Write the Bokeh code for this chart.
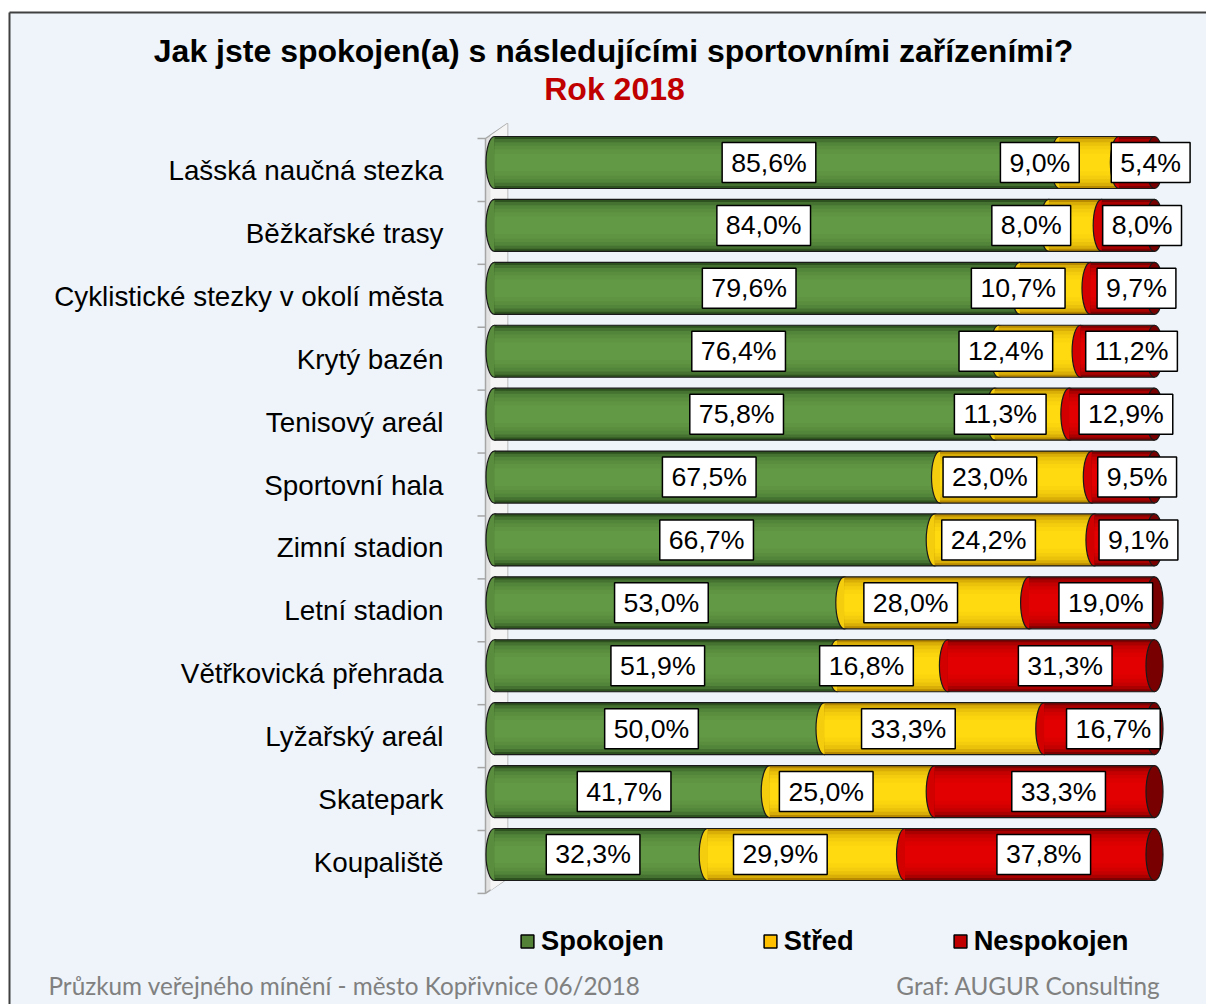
import numpy as np
from bokeh.plotting import figure
from bokeh.models import Range1d, ColumnDataSource, Label, Legend, LegendItem
from bokeh.core.properties import value
from bokeh.embed import file_html
from bokeh.resources import INLINE

# ---------------- data ----------------
categories = [
    "Lašská naučná stezka",
    "Běžkařské trasy",
    "Cyklistické stezky v okolí města",
    "Krytý bazén",
    "Tenisový areál",
    "Sportovní hala",
    "Zimní stadion",
    "Letní stadion",
    "Větřkovická přehrada",
    "Lyžařský areál",
    "Skatepark",
    "Koupaliště",
]
spokojen = [85.6, 84.0, 79.6, 76.4, 75.8, 67.5, 66.7, 53.0, 51.9, 50.0, 41.7, 32.3]
stred = [9.0, 8.0, 10.7, 12.4, 11.3, 23.0, 24.2, 28.0, 16.8, 33.3, 25.0, 29.9]
nespokojen = [5.4, 8.0, 9.7, 11.2, 12.9, 9.5, 9.1, 19.0, 31.3, 16.7, 33.3, 37.8]
series_names = ["Spokojen", "Střed", "Nespokojen"]

title_text = "Jak jste spokojen(a) s následujícími sportovními zařízeními?"
subtitle_text = "Rok 2018"
footer_left = "Průzkum veřejného mínění - město Kopřivnice 06/2018"
footer_right = "Graf: AUGUR Consulting"

# ---------------- layout / style ----------------
BG = "#EEF4F9"
FONT = "Liberation Sans"
FIG_W, FIG_H = 1206, 1004
X0 = 494.0      # canvas px of 0 %
SX = 6.6        # px per percent
ROW0 = 162.0    # canvas px of first row centre
SY = 62.909     # px per row


def to_x(px):
    return (px - X0) / SX


def to_y(py):
    return (py - ROW0) / SY


BAR_H = 52 / SY
CAP_W = 17 / SX

p = figure(width=FIG_W, height=FIG_H, output_backend="svg", toolbar_location=None,
           x_range=Range1d(to_x(0), to_x(FIG_W)),
           y_range=Range1d(to_y(FIG_H), to_y(0)),
           x_axis_location=None, y_axis_location=None,
           min_border=0, background_fill_color="white", border_fill_color="white")
p.outline_line_color = None
p.grid.visible = False

# chart area background + frame lines
p.quad(left=[to_x(9)], right=[to_x(FIG_W + 10)], top=[to_y(12)], bottom=[to_y(FIG_H + 10)],
       fill_color=BG, line_color=None)
p.line([to_x(9), to_x(FIG_W + 10)], [to_y(12), to_y(12)], line_color="#404040", line_width=2)
p.line([to_x(9), to_x(9)], [to_y(12), to_y(FIG_H + 10)], line_color="#404040", line_width=2)

n = len(categories)
rows = np.arange(n, dtype=float)

# ---------------- 3D wall ----------------
shift = 24 / SY
depth = 15 / SY
wall_x = [to_x(485), to_x(507), to_x(507), to_x(485)]
wall_y = [-shift, -shift - depth, n - shift - depth, n - shift]
p.patch(wall_x, wall_y, fill_color="#E2E2E2", line_color="#A6A6A6", line_width=1.5)
p.patch([to_x(490), to_x(507), to_x(507), to_x(490)],
        [wall_y[0] - 3 / SY, wall_y[1], wall_y[2], wall_y[3] - 3 / SY],
        fill_color="#F5F5F5", line_color=None)
tick_y = [k - shift for k in range(n + 1)]
p.segment(x0=[to_x(477)] * (n + 1), x1=[to_x(485)] * (n + 1), y0=tick_y, y1=tick_y,
          line_color="#A6A6A6", line_width=1.5)

# ---------------- cylinders ----------------
vals = [np.array(spokojen), np.array(stred), np.array(nespokojen)]
lefts = [np.zeros(n), vals[0], vals[0] + vals[1]]
rights = [lefts[k] + vals[k] for k in range(3)]
totals = rights[2]


def mix(c1, c2, t):
    a = [int(c1[i:i + 2], 16) for i in (1, 3, 5)]
    b = [int(c2[i:i + 2], 16) for i in (1, 3, 5)]
    return "#" + "".join(f"{round(a[j] + (b[j] - a[j]) * t):02X}" for j in range(3))


edge_center = [("#2E521F", "#629944"), ("#B88A00", "#FFDA10"), ("#7E0000", "#E20000")]
fracs = [1.0, 0.9, 0.78, 0.64, 0.5, 0.34]
for k in range(3):
    e, c = edge_center[k]
    cols = [mix(e, c, t) for t in (0.0, 0.45, 0.7, 0.85, 0.95, 1.0)]
    src = ColumnDataSource(dict(y=rows, left=lefts[k], right=rights[k]))
    p.ellipse(x="left", y="y", width=CAP_W, height=BAR_H, source=src,
              fill_color=cols[3], line_color="#1A1A1A", line_width=1.2)
    for f, col in zip(fracs, cols):
        p.hbar(y="y", left="left", right="right", height=BAR_H * f, source=src,
               fill_color=col, line_color=None)

p.segment(x0=np.zeros(n), x1=totals, y0=rows - BAR_H / 2, y1=rows - BAR_H / 2,
          line_color="#1A1A1A", line_width=1.2)
p.segment(x0=np.zeros(n), x1=totals, y0=rows + BAR_H / 2, y1=rows + BAR_H / 2,
          line_color="#1A1A1A", line_width=1.2)
p.ellipse(x=totals, y=rows, width=CAP_W, height=BAR_H,
          fill_color="#780000", line_color="#1A1A1A", line_width=1.2)

# ---------------- value labels ----------------
LBL_SIZE = 26.7
PADX, PADY = 9, 5
CW = {",": 0.278, "%": 0.889}


def fmt(v):
    return f"{v:.1f}".replace(".", ",") + "%"


def box_w(s):
    return sum(CW.get(ch, 0.556) for ch in s) * LBL_SIZE + 2 * PADX


mids = [(lefts[k] + rights[k]) / 2 for k in range(3)]
texts = [[fmt(v) for v in vals[k]] for k in range(3)]
nudge = [-8, -26, 14]
GAP = 32
offs = [np.zeros(n) for _ in range(3)]
for i in range(n):
    pos = [X0 + mids[k][i] * SX + nudge[k] for k in range(3)]
    w = [box_w(texts[k][i]) for k in range(3)]
    for k in (1, 0):
        pos[k] = min(pos[k], pos[k + 1] - (w[k] + w[k + 1]) / 2 - GAP)
    for k in range(3):
        offs[k][i] = pos[k] - (X0 + mids[k][i] * SX)

for k in range(3):
    src = ColumnDataSource(dict(x=mids[k], y=rows, t=texts[k], xo=offs[k]))
    p.text(x="x", y="y", text="t", x_offset="xo", source=src,
           text_font=value(FONT), text_font_size=f"{LBL_SIZE}px", text_color="black",
           text_align="center", text_baseline="middle",
           background_fill_color="white", border_line_color="black",
           border_line_width=1.5, padding=(PADX, PADY))

# ---------------- category labels ----------------
cat_src = ColumnDataSource(dict(x=[to_x(443)] * n, y=rows + 8 / SY, t=categories))
p.text(x="x", y="y", text="t", source=cat_src, text_font=value(FONT),
       text_font_size="27.8px", text_color="black",
       text_align="right", text_baseline="middle")

# ---------------- titles / footer ----------------
p.add_layout(Label(x=to_x(613), y=to_y(50), text=title_text, text_font=FONT,
                   text_font_size="32px", text_font_style="bold", text_color="black",
                   text_align="center", text_baseline="middle"))
p.add_layout(Label(x=to_x(614), y=to_y(88), text=subtitle_text, text_font=FONT,
                   text_font_size="32px", text_font_style="bold", text_color="#C00000",
                   text_align="center", text_baseline="middle"))
p.add_layout(Label(x=to_x(48), y=to_y(985), text=footer_left, text_font="Lato",
                   text_font_size="24.3px", text_color="#808080",
                   text_align="left", text_baseline="middle"))
p.add_layout(Label(x=to_x(1160), y=to_y(985), text=footer_right, text_font="Lato",
                   text_font_size="24.3px", text_color="#808080",
                   text_align="right", text_baseline="middle"))

# ---------------- legend ----------------
legend_cols = ["#538135", "#FFC000", "#C00000"]
items = []
for name, col in zip(series_names, legend_cols):
    r = p.quad(left=[to_x(-100)], right=[to_x(-90)], top=[to_y(-100)], bottom=[to_y(-90)],
               fill_color=col, line_color="black", line_width=1.5)
    items.append(LegendItem(label=name, renderers=[r]))
legend = Legend(items=items, orientation="horizontal", location=(519, FIG_H - 957),
                glyph_width=16, glyph_height=16, label_standoff=6, spacing=98,
                padding=0, margin=0, background_fill_alpha=0, border_line_alpha=0,
                label_text_font=FONT, label_text_font_size="27.3px",
                label_text_font_style="bold", label_text_color="black")
p.add_layout(legend)

open("out.html", "w").write(file_html(p, INLINE))
